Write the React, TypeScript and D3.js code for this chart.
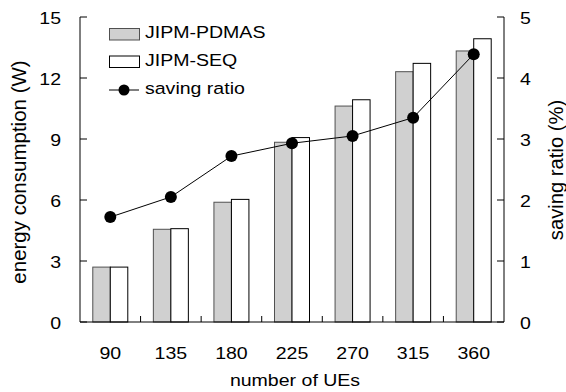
import React from "react";
import * as d3 from "d3";

const categories = ["90", "135", "180", "225", "270", "315", "360"];
const pdmas = [2.7, 4.56, 5.89, 8.84, 10.62, 12.31, 13.33];
const seq = [2.7, 4.59, 6.03, 9.07, 10.93, 12.72, 13.93];
const savingRatio = [1.72, 2.05, 2.72, 2.93, 3.05, 3.35, 4.39];
const leftTicks = [0, 3, 6, 9, 12, 15];
const rightTicks = [0, 1, 2, 3, 4, 5];
const seriesNames = ["JIPM-PDMAS", "JIPM-SEQ", "saving ratio"];

const W = 566, H = 392;
const L = 80, R = 504, T = 17, B = 322;
const FONT = "Liberation Sans, Arial, sans-serif";
const SX = 1.15;
const FS = 17;

function HText({ x, y, anchor = "start", size = FS, children }: { x: number; y: number; anchor?: string; size?: number; children: React.ReactNode }) {
  return (
    <text transform={`translate(${x},${y}) scale(${SX},1)`} textAnchor={anchor} dominantBaseline="central" fontSize={size}>
      {children}
    </text>
  );
}

export default function App() {
  const x = d3.scaleBand<string>().domain(categories).range([L, R]).paddingInner(0).paddingOuter(0);
  const yL = d3.scaleLinear().domain([0, 15]).range([B, T]);
  const yR = d3.scaleLinear().domain([0, 5]).range([B, T]);
  const bw = 17.5;
  const cx = (i: number) => x(categories[i])! + x.bandwidth() / 2;
  const line = d3.line<number>().x((_, i) => cx(i)).y((d) => yR(d));
  const boundaries = categories.slice(1).map((c) => x(c)!);

  return (
    <svg width={W} height={H} style={{ position: "absolute", left: 0, top: 0, background: "#fff" }} fontFamily={FONT}>
      {categories.map((c, i) => (
        <g key={c}>
          <rect x={cx(i) - bw} y={yL(pdmas[i])} width={bw} height={B - yL(pdmas[i])} fill="#d0d0d0" stroke="#505050" strokeWidth={1} />
          <rect x={cx(i)} y={yL(seq[i])} width={bw} height={B - yL(seq[i])} fill="#fff" stroke="#000" strokeWidth={1} />
        </g>
      ))}
      <line x1={L} x2={R} y1={B} y2={B} stroke="#000" />
      <line x1={L} x2={L} y1={T} y2={B} stroke="#000" />
      <line x1={R} x2={R} y1={T} y2={B} stroke="#000" />
      {boundaries.map((bx, i) => (
        <line key={i} x1={bx} x2={bx} y1={B} y2={B - 6} stroke="#000" />
      ))}
      {leftTicks.map((t) => (
        <g key={"l" + t}>
          <line x1={L} x2={L + 7} y1={yL(t)} y2={yL(t)} stroke="#000" />
          <HText x={61} y={yL(t) + 1} anchor="end">{t}</HText>
        </g>
      ))}
      {rightTicks.map((t) => (
        <g key={"r" + t}>
          <line x1={R} x2={R - 7} y1={yR(t)} y2={yR(t)} stroke="#000" />
          <HText x={520} y={yR(t) + 1} anchor="start">{t}</HText>
        </g>
      ))}
      {categories.map((c, i) => (
        <HText key={"c" + c} x={cx(i)} y={353} anchor="middle">{c}</HText>
      ))}
      <HText x={(L + R) / 2 + 3} y={380} anchor="middle">number of UEs</HText>
      <text transform={`translate(18,172) rotate(-90)`} textAnchor="middle" dominantBaseline="central" fontSize={20.5}>energy consumption (W)</text>
      <text transform={`translate(556,170) rotate(-90)`} textAnchor="middle" dominantBaseline="central" fontSize={20.2}>saving ratio (%)</text>
      <path d={line(savingRatio)!} fill="none" stroke="#000" strokeWidth={1} />
      {savingRatio.map((v, i) => (
        <circle key={"p" + i} cx={cx(i)} cy={yR(v)} r={6} fill="#000" />
      ))}
      <rect x={109.5} y={28.5} width={30} height={11.5} fill="#d0d0d0" stroke="#505050" />
      <HText x={145} y={32}>{seriesNames[0]}</HText>
      <rect x={109.5} y={56} width={30} height={11.5} fill="#fff" stroke="#000" />
      <HText x={145} y={60}>{seriesNames[1]}</HText>
      <line x1={109} x2={139} y1={90} y2={90} stroke="#000" />
      <circle cx={124} cy={90} r={5.5} fill="#000" />
      <HText x={145} y={88}>{seriesNames[2]}</HText>
    </svg>
  );
}
